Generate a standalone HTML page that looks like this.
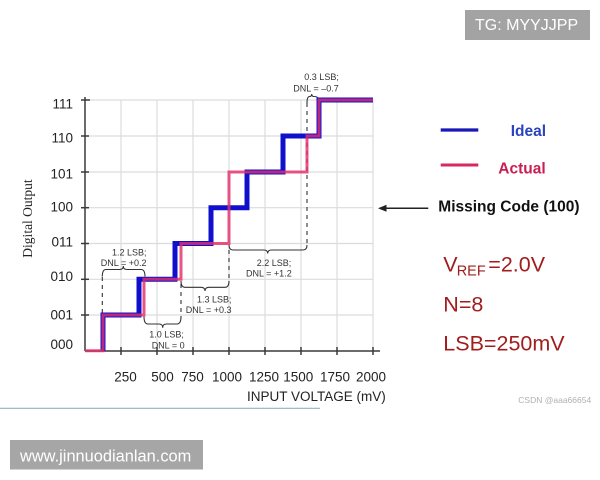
<!DOCTYPE html>
<html><head><meta charset="utf-8"><style>
html,body{margin:0;padding:0;background:#fff;}
svg{display:block;}
</style></head><body>
<svg width="600" height="480" viewBox="0 0 600 480" xmlns="http://www.w3.org/2000/svg" font-family="'Liberation Sans', sans-serif">
<rect width="600" height="480" fill="#fff"/>
<!-- grid -->
<g stroke="#dcdcdc" stroke-width="1.2">
<line x1="85" y1="100" x2="373" y2="100"/>
<line x1="85" y1="136" x2="373" y2="136"/>
<line x1="85" y1="172" x2="373" y2="172"/>
<line x1="85" y1="207.7" x2="373" y2="207.7"/>
<line x1="85" y1="243.5" x2="373" y2="243.5"/>
<line x1="85" y1="279.3" x2="373" y2="279.3"/>
<line x1="85" y1="315" x2="373" y2="315"/>
<line x1="121" y1="100" x2="121" y2="351"/>
<line x1="157" y1="100" x2="157" y2="351"/>
<line x1="193" y1="100" x2="193" y2="351"/>
<line x1="229" y1="100" x2="229" y2="351"/>
<line x1="265" y1="100" x2="265" y2="351"/>
<line x1="301" y1="100" x2="301" y2="351"/>
<line x1="337" y1="100" x2="337" y2="351"/>
<line x1="373" y1="100" x2="373" y2="351"/>
</g>
<!-- axes -->
<g stroke="#3a3a3a" stroke-width="1.5">
<line x1="85" y1="97" x2="85" y2="351"/>
<line x1="85" y1="351" x2="380" y2="351"/>
<line x1="81" y1="100" x2="90" y2="100"/>
<line x1="81" y1="136" x2="89" y2="136"/>
<line x1="81" y1="172" x2="89" y2="172"/>
<line x1="81" y1="207.7" x2="89" y2="207.7"/>
<line x1="81" y1="243.5" x2="89" y2="243.5"/>
<line x1="81" y1="279.3" x2="89" y2="279.3"/>
<line x1="81" y1="315" x2="89" y2="315"/>
<line x1="121" y1="347" x2="121" y2="355"/>
<line x1="157" y1="347" x2="157" y2="355"/>
<line x1="193" y1="347" x2="193" y2="355"/>
<line x1="229" y1="347" x2="229" y2="355"/>
<line x1="265" y1="347" x2="265" y2="355"/>
<line x1="301" y1="347" x2="301" y2="355"/>
<line x1="337" y1="347" x2="337" y2="355"/>
<line x1="373" y1="347" x2="373" y2="355"/>
</g>
<!-- y labels -->
<g font-size="13.5" fill="#222" text-anchor="end">
<text x="73" y="108.3">111</text>
<text x="73" y="142.7">110</text>
<text x="73" y="178.3">101</text>
<text x="73" y="211.7">100</text>
<text x="73" y="246.7">011</text>
<text x="73" y="281">010</text>
<text x="73" y="319.3">001</text>
<text x="73" y="349">000</text>
</g>
<!-- x labels -->
<g font-size="13.5" fill="#222" text-anchor="middle">
<text x="125.5" y="381.5">250</text>
<text x="162.5" y="381.5">500</text>
<text x="192.5" y="381.5">750</text>
<text x="227" y="381.5">1000</text>
<text x="264" y="381.5">1250</text>
<text x="298.3" y="381.5">1500</text>
<text x="335" y="381.5">1750</text>
<text x="371" y="381.5">2000</text>
</g>
<text x="247" y="401" font-size="13.5" fill="#222">INPUT VOLTAGE (mV)</text>
<text x="32" y="218.5" font-size="13.5" fill="#222" font-family="'Liberation Serif', serif" text-anchor="middle" transform="rotate(-90 32 218.5)">Digital Output</text>

<!-- dashed lines -->
<g stroke="#333" stroke-width="1.1" stroke-dasharray="4,4" fill="none">
<line x1="102.3" y1="277" x2="102.3" y2="313"/>
<line x1="181" y1="284" x2="181" y2="317"/>
<line x1="229" y1="250" x2="229" y2="282"/>
<line x1="307" y1="103" x2="307" y2="246"/>
</g>
<!-- braces -->
<g stroke="#333" stroke-width="1.1" fill="none">
<path d="M102.3,276.5 Q102.3,269.5 106,269.5 L119.5,269.5 Q123.3,269.5 123.3,266 Q123.3,269.5 127,269.5 L141,269.5 Q145,269.5 145,276.5"/>
<path d="M144,316.5 Q144,324 148,324 L159,324 Q162.7,324 162.7,327.7 Q162.7,324 166.5,324 L177,324 Q181,324 181,316.5"/>
<path d="M181,281 Q181,287.3 185,287.3 L201,287.3 Q205,287.3 205,291 Q205,287.3 209,287.3 L225,287.3 Q229,287.3 229,281"/>
<path d="M229,245 Q229,250 233,250 L264,250 Q267.7,250 267.7,253.5 Q267.7,250 271.5,250 L303,250 Q307,250 307,245"/>
<path d="M307,103 Q307,96.5 309.5,96.5 Q311.7,96.5 311.7,94 Q311.7,96.5 314,96.5 Q318.5,96.5 318.5,100"/>
</g>
<!-- annotation text -->
<g font-size="9" fill="#333">
<text x="146.5" y="255.5" text-anchor="end">1.2 LSB;</text>
<text x="146.5" y="266" text-anchor="end">DNL = +0.2</text>
<text x="149.3" y="337.5">1.0 LSB;</text>
<text x="151.7" y="348.5">DNL = 0</text>
<text x="231.5" y="302.5" text-anchor="end">1.3 LSB;</text>
<text x="231.5" y="313" text-anchor="end">DNL = +0.3</text>
<text x="256.7" y="266">2.2 LSB;</text>
<text x="246" y="276.3">DNL = +1.2</text>
<text x="304.3" y="80">0.3 LSB;</text>
<text x="293.3" y="91.7">DNL = –0.7</text>
</g>

<!-- series -->
<path d="M103,351 V315 H139 V279.3 H175 V243.5 H211 V207.7 H247 V172 H283 V136 H319 V100 H373" fill="none" stroke="#1010cc" stroke-width="5" stroke-linejoin="miter"/>
<path d="M85,350.7 H103 V315 H144 V279.3 H181 V243.5 H229 V172 H307 V136 H319 V100 H373" fill="none" stroke="#e2306c" stroke-width="3" stroke-linejoin="miter" opacity="0.82"/>

<!-- legend -->
<line x1="440.7" y1="130" x2="478.3" y2="130" stroke="#1818b8" stroke-width="3.3"/>
<line x1="440.7" y1="165" x2="478.3" y2="165" stroke="#d8285e" stroke-width="3"/>
<text x="510.7" y="136" font-size="15.5" font-weight="bold" fill="#2a44c0">Ideal</text>
<text x="498.3" y="173.3" font-size="15.5" font-weight="bold" fill="#c81e52">Actual</text>
<text x="438.3" y="211.7" font-size="15.5" font-weight="bold" fill="#111">Missing Code (100)</text>
<line x1="384" y1="208.3" x2="428.3" y2="208.3" stroke="#222" stroke-width="1.5"/>
<polygon points="378,208.3 386.5,204.8 386.5,211.8" fill="#222"/>

<!-- params -->
<g fill="#a11d1d">
<text x="443.3" y="271.7" font-size="21.5">V</text>
<text x="456.7" y="275.5" font-size="14.5">REF</text>
<text x="488.3" y="271.7" font-size="21.5">=2.0V</text>
<text x="443.3" y="311.7" font-size="21.5">N=8</text>
<text x="443.3" y="350.7" font-size="21.5">LSB=250mV</text>
</g>
<text x="518.3" y="403" font-size="8.5" fill="#b0b0b0">CSDN @aaa66654</text>

<!-- watermark boxes -->
<rect x="465" y="10" width="125" height="30" fill="#a3a3a3"/>
<text x="475" y="30" font-size="16" fill="#fff">TG: MYYJJPP</text>
<line x1="0" y1="408.3" x2="320" y2="408.3" stroke="#8db4c4" stroke-width="1.2"/>
<rect x="10" y="440" width="193" height="29.5" fill="#a6a6a6"/>
<text x="20" y="461.5" font-size="16.4" fill="#fff">www.jinnuodianlan.com</text>
</svg>
</body></html>
